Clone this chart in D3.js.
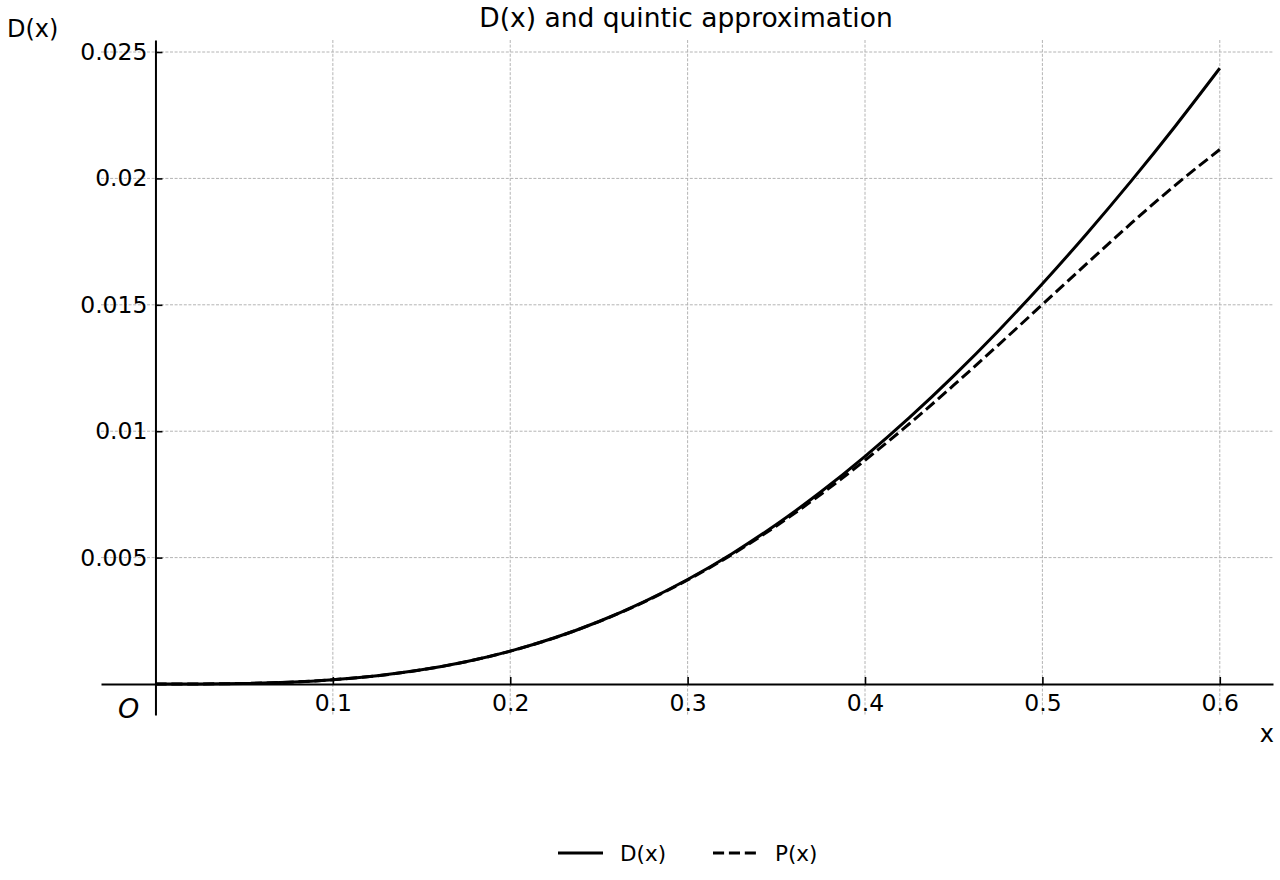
<!DOCTYPE html>
<html lang="en">
<head>
  <meta charset="UTF-8" />
  <title>D(x) and quintic approximation</title>
  <script src="https://d3js.org/d3.v7.min.js"></script>
  <style>
    body {
      margin: 0;
      background: #fff;
      font-family: "DejaVu Sans", sans-serif;
    }
    .grid line {
      stroke: #b4b4b4;
      stroke-width: 1;
      stroke-dasharray: 3 1.6;
    }
    .axis path, .axis line {
      stroke: #000;
    }
    .axis path {
      stroke-width: 2;
    }
    .axis line {
      stroke-width: 1.6;
    }
  </style>
</head>
<body>
  <script>
    // Sample points along x, and the values.
    const xs = [0, 0.025, 0.05, 0.075, 0.1, 0.125, 0.15, 0.175, 0.2, 0.225, 0.25, 0.275, 0.3,
      0.325, 0.35, 0.375, 0.4, 0.425, 0.45, 0.475, 0.5, 0.525, 0.55, 0.575, 0.6];
    const dValues = [0, 0.0000027, 0.0000213, 0.0000715, 0.000169, 0.000327, 0.000561, 0.000881,
      0.001301, 0.001828, 0.002473, 0.00324, 0.004133, 0.005156, 0.00631, 0.007593, 0.009004,
      0.010537, 0.01219, 0.013957, 0.015833, 0.017813, 0.019893, 0.022075, 0.024357];
    const pValues = [0, 0.0000027, 0.0000213, 0.0000715, 0.0001686, 0.000327, 0.0005605, 0.000881,
      0.0013002, 0.0018268, 0.0024683, 0.0032303, 0.0041153, 0.005124, 0.0062535, 0.0074985, 0.00885,
      0.0102952, 0.0118184, 0.0133991, 0.0150125, 0.01663, 0.0182173, 0.0197357, 0.0211421];

    const xTicks = [0.1, 0.2, 0.3, 0.4, 0.5, 0.6];
    const xTickLabels = ["0.1", "0.2", "0.3", "0.4", "0.5", "0.6"];
    const yTicks = [0.005, 0.01, 0.015, 0.02, 0.025];
    const yTickLabels = ["0.005", "0.01", "0.015", "0.02", "0.025"];

    const seriesNames = ["D(x)", "P(x)"];

    const width = 1280, height = 880;
    const plot = { left: 101, right: 1273, top: 40, bottom: 715 };
    const dash = "11.1 4.8";

    const svg = d3.select("body").append("svg")
      .attr("width", width)
      .attr("height", height);

    const x = d3.scaleLinear().domain([-0.0307, 0.63]).range([plot.left, plot.right]);
    const y = d3.scaleLinear().domain([-0.001226, 0.025475]).range([plot.bottom, plot.top]);

    // Dashed grid lines
    const grid = svg.append("g").attr("class", "grid");
    grid.selectAll(".gx").data(xTicks).enter().append("line")
      .attr("x1", d => x(d)).attr("x2", d => x(d))
      .attr("y1", plot.top).attr("y2", plot.bottom);
    grid.selectAll(".gy").data(yTicks).enter().append("line")
      .attr("x1", plot.left).attr("x2", plot.right)
      .attr("y1", d => y(d)).attr("y2", d => y(d));

    // Axes cross at the origin, ticks point inward
    const xAxisG = svg.append("g")
      .attr("class", "axis")
      .attr("transform", `translate(0,${y(0)})`)
      .call(d3.axisBottom(x)
        .tickValues(xTicks)
        .tickFormat((d, i) => xTickLabels[i])
        .tickSizeInner(-7)
        .tickSizeOuter(0)
        .tickPadding(10));

    const yAxisG = svg.append("g")
      .attr("class", "axis")
      .attr("transform", `translate(${x(0)},0)`)
      .call(d3.axisLeft(y)
        .tickValues(yTicks)
        .tickFormat((d, i) => yTickLabels[i])
        .tickSizeInner(-7)
        .tickSizeOuter(0)
        .tickPadding(8));

    [xAxisG, yAxisG].forEach(g => g.selectAll("text")
      .style("font-family", "DejaVu Sans, sans-serif")
      .style("font-size", "23.5px")
      .attr("fill", "#000"));

    // Curves
    const line = d3.line()
      .x(d => x(d[0]))
      .y(d => y(d[1]))
      .curve(d3.curveNatural);

    svg.append("path")
      .datum(xs.map((v, i) => [v, dValues[i]]))
      .attr("fill", "none")
      .attr("stroke", "#000")
      .attr("stroke-width", 3)
      .attr("d", line);

    svg.append("path")
      .datum(xs.map((v, i) => [v, pValues[i]]))
      .attr("fill", "none")
      .attr("stroke", "#000")
      .attr("stroke-width", 3)
      .attr("stroke-dasharray", dash)
      .attr("d", line);

    // Labels
    svg.append("text")
      .attr("x", 686).attr("y", 27)
      .attr("text-anchor", "middle")
      .style("font-size", "26.5px")
      .text("D(x) and quintic approximation");

    svg.append("text")
      .attr("x", 7).attr("y", 37)
      .style("font-size", "24px")
      .text("D(x)");

    svg.append("text")
      .attr("x", 1274).attr("y", 742)
      .attr("text-anchor", "end")
      .style("font-size", "24px")
      .text("x");

    svg.append("text")
      .attr("x", 118).attr("y", 718)
      .style("font-size", "27px")
      .style("font-style", "italic")
      .text("O");

    // Legend below the plot
    const legend = svg.append("g").attr("transform", "translate(558,853)");
    const legendX = [0, 155];
    seriesNames.forEach((name, i) => {
      const g = legend.append("g").attr("transform", `translate(${legendX[i]},0)`);
      g.append("line")
        .attr("x1", 0).attr("x2", 45)
        .attr("y1", 0).attr("y2", 0)
        .attr("stroke", "#000")
        .attr("stroke-width", 3)
        .attr("stroke-dasharray", i === 1 ? dash : null);
      g.append("text")
        .attr("x", 62).attr("y", 0)
        .attr("dy", "0.36em")
        .style("font-size", "21.5px")
        .text(name);
    });
  </script>
</body>
</html>
